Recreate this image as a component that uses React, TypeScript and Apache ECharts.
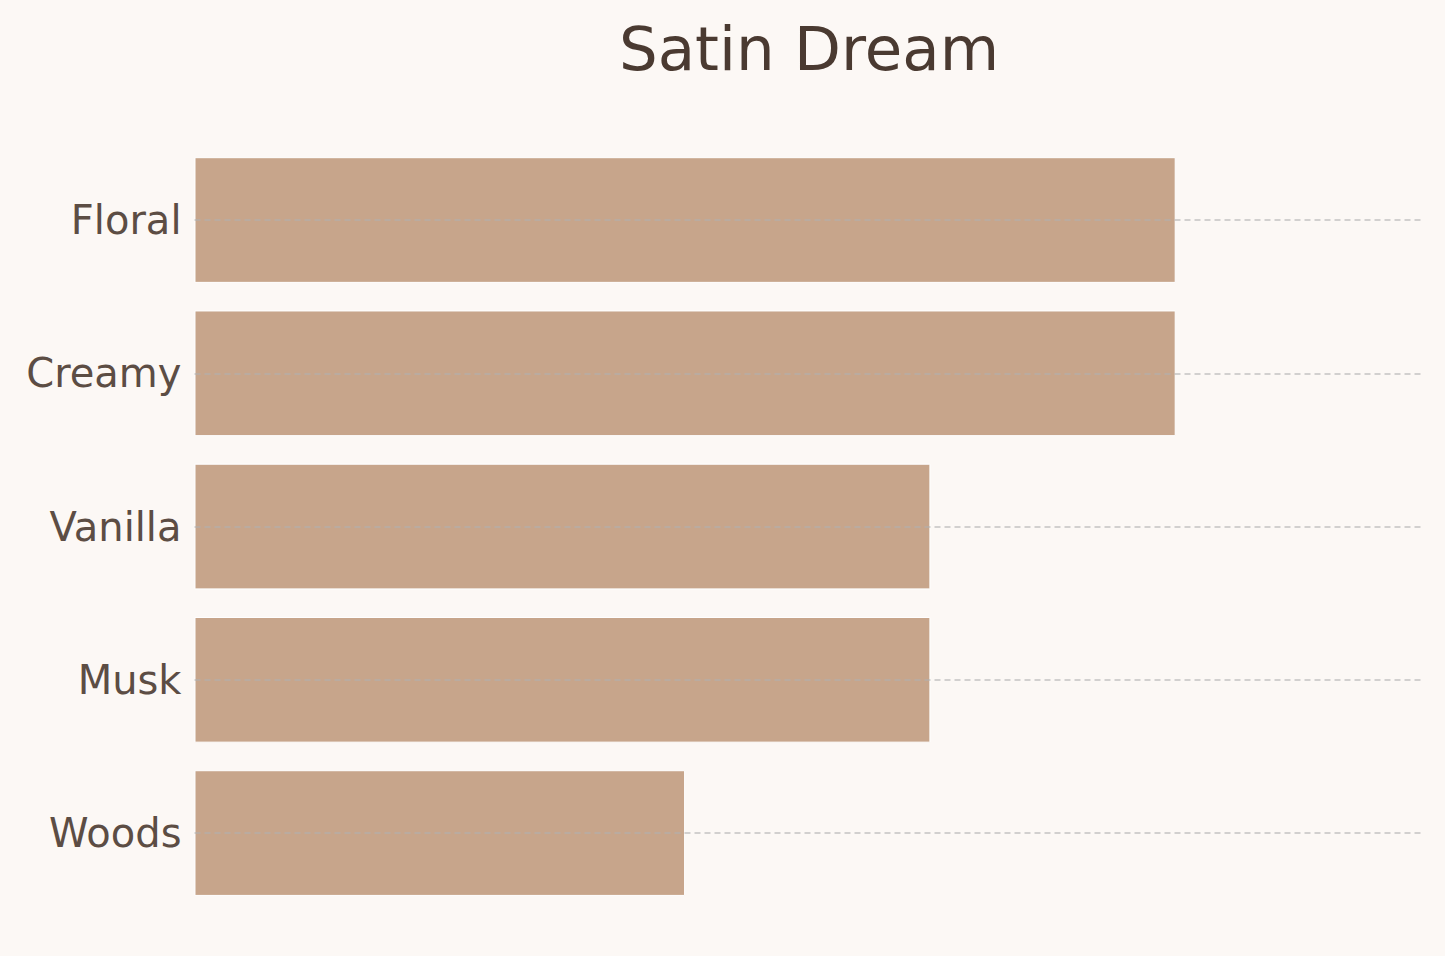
import React, { useEffect, useRef } from "react";
import * as echarts from "echarts";

const categories: string[] = ["Floral", "Creamy", "Vanilla", "Musk", "Woods"];
const values: number[] = [4, 4, 3, 3, 2];
const titleText = "Satin Dream";
const xMax = 5;

export default function App() {
  const ref = useRef<HTMLDivElement>(null);
  useEffect(() => {
    if (!ref.current) return;
    const chart = echarts.init(ref.current, undefined, { renderer: "svg" });
    chart.setOption({
      animation: false,
      backgroundColor: "#fcf8f5",
      title: {
        text: titleText,
        left: 614,
        top: 13,
        textStyle: {
          fontFamily: "DejaVu Sans",
          fontSize: 61,
          fontWeight: "normal",
          color: "#4a3a31",
        },
      },
      grid: { left: 194.5, right: 24, top: 143.4, bottom: 46.3, containLabel: false },
      xAxis: {
        type: "value",
        min: 0,
        max: xMax,
        show: false,
        splitLine: { show: false },
      },
      yAxis: {
        type: "category",
        data: categories,
        inverse: true,
        axisLine: { show: false },
        axisTick: { show: false },
        splitLine: { show: false },
        axisLabel: {
          fontFamily: "DejaVu Sans",
          fontSize: 40,
          color: "#5c4d44",
          margin: 13,
        },
      },
      series: [
        {
          type: "bar",
          data: values,
          barCategoryGap: "18%",
          itemStyle: { color: "#c7a58b", borderColor: "#ffffff", borderWidth: 1 },
          markLine: {
            silent: true,
            symbol: "none",
            label: { show: false },
            lineStyle: { color: "rgba(176,176,176,0.75)", width: 1.6, type: [6, 4] },
            data: categories.map((c) => ({ yAxis: c })),
          },
        },
      ],
    });
    return () => chart.dispose();
  }, []);
  return (
    <div
      ref={ref}
      style={{ position: "fixed", left: 0, top: 0, width: 1445, height: 956 }}
    />
  );
}
